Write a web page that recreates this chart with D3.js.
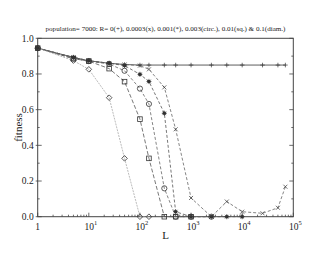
<!DOCTYPE html>
<html>
<head>
<meta charset="utf-8">
<script src="https://cdn.jsdelivr.net/npm/d3@7"></script>
<style>
  body { margin: 0; background: #fff; }
  text { font-family: "Liberation Serif", "DejaVu Serif", serif; fill: #222; }
</style>
</head>
<body>
<div id="chart"></div>
<script>
// L values (system size) and fitness per recombination rate R
const lengths = [1, 5, 10, 25, 50, 100, 150, 300, 500, 1000, 2500, 5000, 10000, 25000, 50000, 70000]

const fitPlus    = [0.945, 0.893, 0.874, 0.86, 0.853, 0.85, 0.85, 0.85, 0.85, 0.85, 0.85, 0.85, 0.85, 0.85, 0.85, 0.85]
const fitCross   = [0.945, 0.893, 0.874, 0.86, 0.853, 0.847, 0.826, 0.725, 0.49, 0.105, 0.0, 0.085, 0.028, 0.019, 0.05, 0.168]
const fitStar    = [0.945, 0.893, 0.874, 0.86, 0.847, 0.798, 0.758, 0.58, 0.028, 0.0, 0.0, 0.0, 0.0]
const fitCircle  = [0.945, 0.886, 0.872, 0.856, 0.818, 0.718, 0.632, 0.159, 0.0, 0.0, 0.0]
const fitSquare  = [0.945, 0.886, 0.872, 0.83, 0.757, 0.547, 0.327, 0.0, 0.0, 0.0]
const fitDiamond = [0.945, 0.875, 0.826, 0.667, 0.327, 0.0, 0.0]

const yTicks = [0, 0.2, 0.4, 0.6, 0.8, 1.0]
const xDecades = [0, 1, 2, 3, 4, 5]
const title = "population= 7000: R= 0(+), 0.0003(x), 0.001(*), 0.003(circ.), 0.01(sq.) & 0.1(diam.)"

const series = [
  { name: "plus",    values: fitPlus,    color: "#333", dash: null,  symbol: "plus" },
  { name: "cross",   values: fitCross,   color: "#666", dash: "3,2", symbol: "cross" },
  { name: "star",    values: fitStar,    color: "#555", dash: "3,2", symbol: "star" },
  { name: "circle",  values: fitCircle,  color: "#666", dash: "3,2", symbol: "circle" },
  { name: "square",  values: fitSquare,  color: "#555", dash: "4,2", symbol: "square" },
  { name: "diamond", values: fitDiamond, color: "#aaa", dash: "2,1", symbol: "diamond" },
]

const width = 330
const height = 255
const margin = { top: 38.3, right: 36.7, bottom: 38.3, left: 37.7 }

const svg = d3.select("#chart")
  .append("svg")
    .attr("width", width)
    .attr("height", height)

const x = d3.scaleLog()
  .domain([1, 1e5])
  .range([margin.left, width - margin.right])

const y = d3.scaleLinear()
  .domain([0, 1])
  .range([height - margin.bottom, margin.top])

// title
svg.append("text")
  .attr("x", (x.range()[0] + x.range()[1]) / 2)
  .attr("y", 31)
  .attr("text-anchor", "middle")
  .style("font-size", "7.1px")
  .text(title)

// frame
svg.append("rect")
  .attr("x", x.range()[0])
  .attr("y", y.range()[1])
  .attr("width", x.range()[1] - x.range()[0])
  .attr("height", y.range()[0] - y.range()[1])
  .attr("fill", "none")
  .attr("stroke", "#444")
  .attr("stroke-width", 1)

const ticks = svg.append("g").attr("stroke", "#444").attr("stroke-width", 0.8)

// y ticks, major and minor, left and right
d3.range(0, 1.001, 0.1).forEach((v, i) => {
  const len = i % 2 === 0 ? 4 : 2
  ticks.append("line")
    .attr("x1", x.range()[0] - (i % 2 === 0 ? 2 : 0)).attr("x2", x.range()[0] + len)
    .attr("y1", y(v)).attr("y2", y(v))
  ticks.append("line")
    .attr("x1", x.range()[1]).attr("x2", x.range()[1] - len)
    .attr("y1", y(v)).attr("y2", y(v))
})

svg.selectAll(".ylab")
  .data(yTicks)
  .join("text")
    .attr("class", "ylab")
    .attr("x", x.range()[0] - 4)
    .attr("y", d => y(d) + 3.2)
    .attr("text-anchor", "end")
    .style("font-size", "9.5px")
    .text(d => d3.format(".1f")(d))

// x ticks on log scale
xDecades.forEach(p => {
  ticks.append("line")
    .attr("x1", x(10 ** p)).attr("x2", x(10 ** p))
    .attr("y1", y.range()[0]).attr("y2", y.range()[0] - 4)
  if (p < 5) {
    for (let m = 2; m < 10; m++) {
      ticks.append("line")
        .attr("x1", x(m * 10 ** p)).attr("x2", x(m * 10 ** p))
        .attr("y1", y.range()[0]).attr("y2", y.range()[0] - 2)
    }
  }
})

const xlab = svg.selectAll(".xlab")
  .data(xDecades)
  .join("text")
    .attr("class", "xlab")
    .attr("x", d => x(10 ** d) + (d === 0 ? 0 : 2))
    .attr("y", y.range()[0] + 13.5)
    .attr("text-anchor", "middle")
    .style("font-size", "9.5px")

xlab.filter(d => d === 0).text("1")
xlab.filter(d => d > 0).each(function(d) {
  const t = d3.select(this)
  t.append("tspan").text("10")
  t.append("tspan").attr("dy", -5).style("font-size", "6.5px").text(d)
})

// axis titles
svg.append("text")
  .attr("x", (x.range()[0] + x.range()[1]) / 2)
  .attr("y", 239)
  .attr("text-anchor", "middle")
  .style("font-size", "11px")
  .text("L")

svg.append("text")
  .attr("transform", `translate(22, ${(y.range()[0] + y.range()[1]) / 2}) rotate(-90)`)
  .attr("text-anchor", "middle")
  .style("font-size", "11px")
  .text("fitness")

// lines
const line = d3.line()
  .x((d, i) => x(lengths[i]))
  .y(d => y(d))

const plot = svg.append("g")

series.forEach(s => {
  plot.append("path")
    .datum(s.values)
    .attr("d", line)
    .attr("fill", "none")
    .attr("stroke", s.color)
    .attr("stroke-width", 0.8)
    .attr("stroke-dasharray", s.dash)
})

// markers
function drawMarker(g, type) {
  const c = "#333"
  if (type === "plus") {
    g.append("path").attr("d", "M-2.3,0H2.3M0,-2.3V2.3").attr("stroke", c).attr("stroke-width", 0.7)
  } else if (type === "cross") {
    g.append("path").attr("d", "M-2,-2L2,2M-2,2L2,-2").attr("stroke", c).attr("stroke-width", 0.7)
  } else if (type === "star") {
    g.append("circle").attr("r", 1.8).attr("fill", c)
    g.append("path").attr("d", "M-2.6,0H2.6M0,-2.6V2.6M-1.9,-1.9L1.9,1.9M-1.9,1.9L1.9,-1.9").attr("stroke", c).attr("stroke-width", 0.6)
  } else if (type === "circle") {
    g.append("circle").attr("r", 2.6).attr("fill", "none").attr("stroke", c).attr("stroke-width", 0.8)
  } else if (type === "square") {
    g.append("rect").attr("x", -2.3).attr("y", -2.3).attr("width", 4.6).attr("height", 4.6)
      .attr("fill", "none").attr("stroke", c).attr("stroke-width", 0.8)
  } else if (type === "diamond") {
    g.append("path").attr("d", "M0,-2.8L2.8,0L0,2.8L-2.8,0Z").attr("fill", "none").attr("stroke", c).attr("stroke-width", 0.8)
  }
}

series.slice().reverse().forEach(s => {
  plot.selectAll(`.m-${s.name}`)
    .data(s.values)
    .join("g")
      .attr("class", `m-${s.name}`)
      .attr("transform", (d, i) => `translate(${x(lengths[i])},${y(d)})`)
      .each(function() { drawMarker(d3.select(this), s.symbol) })
})
</script>
</body>
</html>
